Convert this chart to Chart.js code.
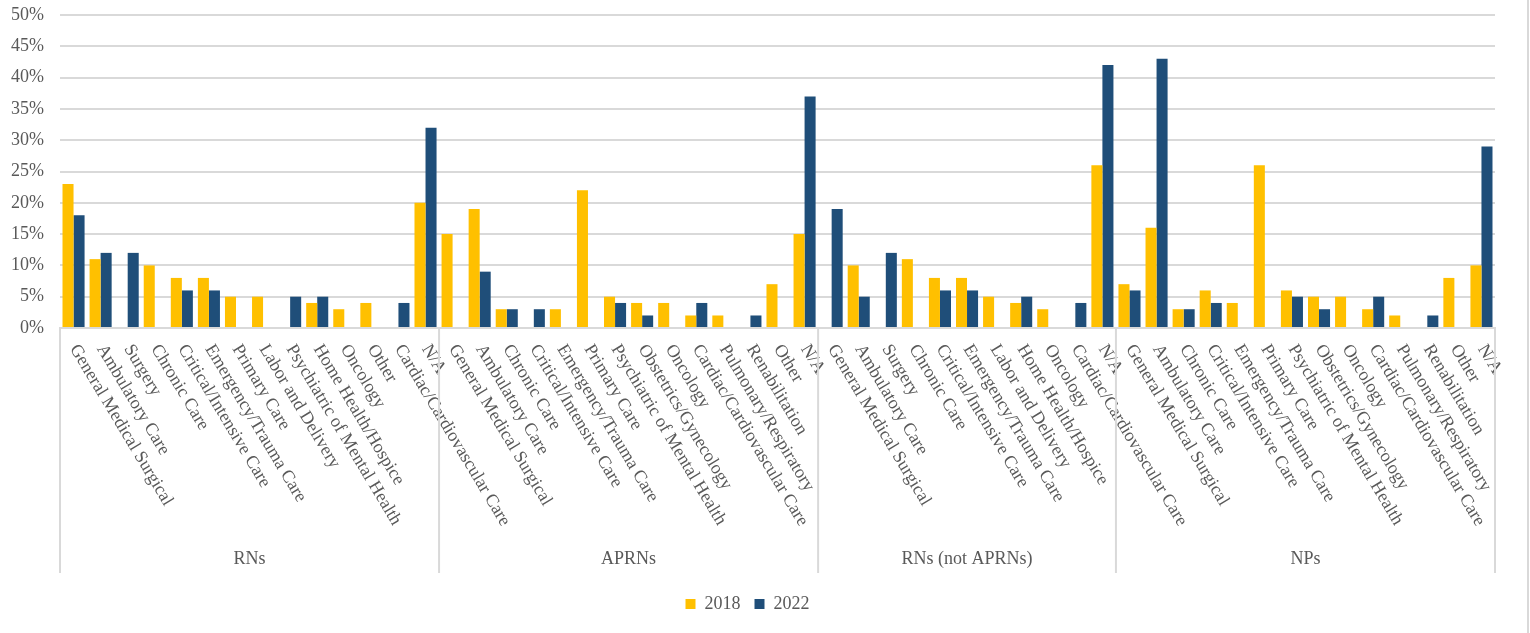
<!DOCTYPE html>
<html>
<head>
<meta charset="utf-8">
<title>Practice specialty, 2018 vs 2022</title>
<script src="https://cdn.jsdelivr.net/npm/chart.js@4.4.0/dist/chart.umd.min.js"></script>
<style>
    html, body { margin: 0; padding: 0; background: #fff; }
    #wrap { position: relative; width: 1527px; height: 633px; border-right: 2px solid #d9d9d9; }
</style>
</head>
<body>
<div id="wrap"><canvas id="specialtyChart"></canvas></div>
<script>
// Groups along the x axis, in order
const groupNames = ['RNs', 'APRNs', 'RNs (not APRNs)', 'NPs'];

// RNs
const rnCategories = ['General Medical Surgical', 'Ambulatory Care', 'Surgery', 'Chronic Care',
    'Critical/Intensive Care', 'Emergency/Trauma Care', 'Primary Care', 'Labor and Delivery',
    'Psychiatric of Mental Health', 'Home Health/Hospice', 'Oncology', 'Other',
    'Cardiac/Cardiovascular Care', 'N/A'];
const rn2018 = [23, 11, null, 10, 8, 8, 5, 5, null, 4, 3, 4, null, 20];
const rn2022 = [18, 12, 12, null, 6, 6, null, null, 5, 5, null, null, 4, 32];

// APRNs
const aprnCategories = ['General Medical Surgical', 'Ambulatory Care', 'Chronic Care',
    'Critical/Intensive Care', 'Emergency/Trauma Care', 'Primary Care',
    'Psychiatric of Mental Health', 'Obstetrics/Gynecology', 'Oncology',
    'Cardiac/Cardiovascular Care', 'Pulmonary/Respiratory', 'Renabilitation', 'Other', 'N/A'];
const aprn2018 = [15, 19, 3, null, 3, 22, 5, 4, 4, 2, 2, null, 7, 15];
const aprn2022 = [null, 9, 3, 3, null, null, 4, 2, null, 4, null, 2, null, 37];

// RNs (not APRNs)
const rnOnlyCategories = ['General Medical Surgical', 'Ambulatory Care', 'Surgery', 'Chronic Care',
    'Critical/Intensive Care', 'Emergency/Trauma Care', 'Labor and Delivery',
    'Home Health/Hospice', 'Oncology', 'Cardiac/Cardiovascular Care', 'N/A'];
const rnOnly2018 = [null, 10, null, 11, 8, 8, 5, 4, 3, null, 26];
const rnOnly2022 = [19, 5, 12, null, 6, 6, null, 5, null, 4, 42];

// NPs
const npCategories = ['General Medical Surgical', 'Ambulatory Care', 'Chronic Care',
    'Critical/Intensive Care', 'Emergency/Trauma Care', 'Primary Care',
    'Psychiatric of Mental Health', 'Obstetrics/Gynecology', 'Oncology',
    'Cardiac/Cardiovascular Care', 'Pulmonary/Respiratory', 'Renabilitation', 'Other', 'N/A'];
const np2018 = [7, 16, 3, 6, 4, 26, 6, 5, 5, 3, 2, null, 8, 10];
const np2022 = [6, 43, 3, 4, null, null, 5, 3, null, 5, null, 2, null, 29];

const yTicks = [0, 5, 10, 15, 20, 25, 30, 35, 40, 45, 50];

const groupCategories = [rnCategories, aprnCategories, rnOnlyCategories, npCategories];
const labels = groupCategories.flat();
const values2018 = [].concat(rn2018, aprn2018, rnOnly2018, np2018);
const values2022 = [].concat(rn2022, aprn2022, rnOnly2022, np2022);

const FONT = '"Liberation Serif", "Times New Roman", serif';
const TEXT = '#595959';
const LINE = '#d9d9d9';

/**
 * Rotated category labels, group dividers and group names under the x axis
 */
const groupedAxis = {
    id: 'groupedAxis',
    afterDraw(chart) {
        const { ctx, scales: { x, y } } = chart;
        const step = x.getPixelForValue(1) - x.getPixelForValue(0);
        const base = y.bottom;

        ctx.save();
        ctx.font = '18px ' + FONT;
        ctx.fillStyle = TEXT;
        ctx.textAlign = 'left';
        ctx.textBaseline = 'middle';
        labels.forEach((label, i) => {
            ctx.save();
            ctx.translate(x.getPixelForValue(i), base + 18);
            ctx.rotate(59 * Math.PI / 180);
            ctx.fillText(label, 0, 0);
            ctx.restore();
        });

        ctx.strokeStyle = LINE;
        ctx.lineWidth = 2;
        ctx.textAlign = 'center';
        let start = 0;
        groupCategories.forEach((cats, g) => {
            const left = x.getPixelForValue(start) - step / 2;
            const right = x.getPixelForValue(start + cats.length - 1) + step / 2;
            ctx.beginPath();
            ctx.moveTo(left, base);
            ctx.lineTo(left, base + 245);
            ctx.stroke();
            if (g === groupCategories.length - 1) {
                ctx.beginPath();
                ctx.moveTo(right, base);
                ctx.lineTo(right, base + 245);
                ctx.stroke();
            }
            ctx.fillText(groupNames[g], (left + right) / 2, base + 231);
            start += cats.length;
        });
        ctx.restore();
    }
};

const ctx = document.getElementById('specialtyChart').getContext('2d');

new Chart(ctx, {
    type: 'bar',
    data: {
        labels: labels,
        datasets: [
            {
                label: '2018',
                data: values2018,
                backgroundColor: '#ffc000',
                categoryPercentage: 0.815,
                barPercentage: 1
            },
            {
                label: '2022',
                data: values2022,
                backgroundColor: '#1f4e79',
                categoryPercentage: 0.815,
                barPercentage: 1
            }
        ]
    },
    options: {
        responsive: true,
        maintainAspectRatio: false,
        animation: false,
        layout: {
            padding: { top: 15, right: 32, bottom: 10, left: 0 }
        },
        plugins: {
            legend: {
                display: true,
                position: 'bottom',
                labels: {
                    color: TEXT,
                    font: { family: FONT, size: 18 },
                    boxWidth: 10,
                    boxHeight: 10,
                    padding: 14
                }
            },
            tooltip: { enabled: false }
        },
        scales: {
            x: {
                grid: { display: false },
                border: { color: LINE, width: 2 },
                ticks: { display: false },
                afterFit: scale => { scale.height = 253; }
            },
            y: {
                min: 0,
                max: 50,
                afterBuildTicks: scale => {
                    scale.ticks = yTicks.map(v => ({ value: v }));
                },
                grid: { color: LINE, lineWidth: 2, drawTicks: false },
                border: { display: false },
                ticks: {
                    color: TEXT,
                    padding: 16,
                    font: { family: FONT, size: 18 },
                    callback: value => value + '%'
                },
                afterFit: scale => {
                    scale.width = 60;
                    // let the layout padding alone decide where the top gridline sits
                    scale.paddingTop = 0;
                    scale.paddingBottom = 0;
                }
            }
        }
    },
    plugins: [groupedAxis]
});
</script>
</body>
</html>
